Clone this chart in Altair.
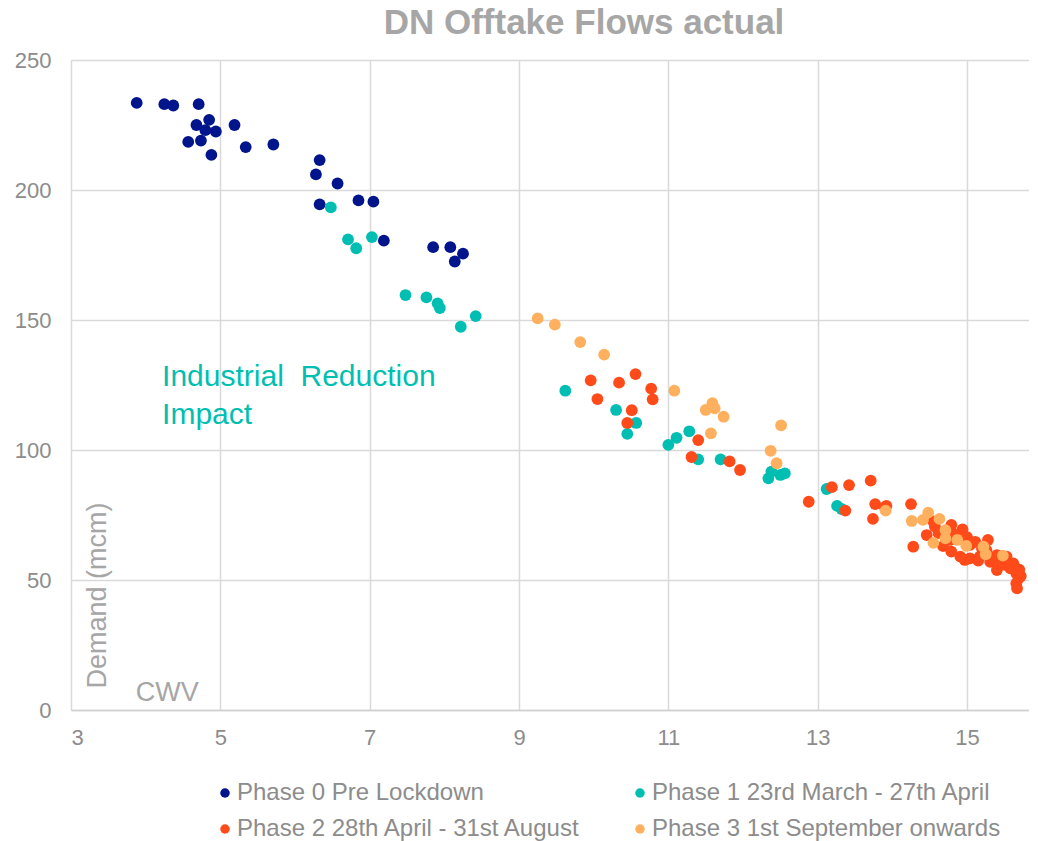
import altair as alt
import pandas as pd

phases = [
    "Phase 0 Pre Lockdown",
    "Phase 1 23rd March - 27th April",
    "Phase 2 28th April - 31st August",
    "Phase 3 1st September onwards",
]
colors = ["#00148C", "#00BFB2", "#FF4A1A", "#FFB05E"]

cwv0 = [3.88, 4.25, 4.37, 4.71, 4.85, 4.68, 4.80, 4.94, 5.19, 4.57, 4.74, 4.88, 5.34,
        5.71, 6.33, 6.28, 6.57, 6.33, 6.85, 7.05, 7.19, 7.85, 8.08, 8.25, 8.14]
dem0 = [233.5, 233, 232.5, 233, 227, 225, 223, 222.5, 225, 218.5, 219, 213.5, 216.5,
        217.5, 211.5, 206, 202.5, 194.5, 196, 195.5, 180.5, 178, 178, 175.5, 172.5]

cwv1 = [6.48, 6.71, 6.82, 7.03, 7.48, 7.76, 7.91, 7.94, 8.22, 8.42, 9.62, 10.30, 10.57,
        10.45, 11.00, 11.11, 11.28, 11.40, 11.70, 12.34, 12.38, 12.50, 12.56, 13.12,
        13.26, 13.32]
dem1 = [193.3, 181.0, 177.6, 181.9, 159.6, 158.7, 156.4, 154.6, 147.4, 151.5, 122.8,
        115.4, 110.4, 106.2, 102.0, 104.7, 107.2, 96.4, 96.4, 89.1, 91.7, 90.4, 91.0,
        85.0, 78.5, 77.3]

cwv2 = [9.96, 10.34, 10.56, 10.05, 10.77, 10.79, 10.51, 10.45, 11.40, 11.31, 11.82, 11.96,
        12.88, 13.19, 13.42, 13.71, 13.37, 13.77, 13.92, 13.74, 14.25, 14.28, 14.46, 14.57,
        14.79, 14.94, 14.77, 14.79, 15.04, 15.11, 15.04, 15.17, 15.28, 15.31, 15.40, 15.40,
        15.51, 15.62, 15.66, 15.69, 15.66, 15.67, 14.91, 14.97, 15.26, 15.53, 14.62, 14.85,
        15.00, 15.20, 15.35, 15.58, 15.70, 15.72, 14.55, 13.90, 14.68, 15.45, 15.15]
dem2 = [126.8, 125.9, 129.2, 119.6, 123.6, 119.5, 115.3, 110.4, 103.8, 97.3, 95.6, 92.3,
        80.1, 85.7, 86.5, 88.2, 76.7, 79.2, 78.5, 73.5, 79.2, 62.8, 67.3, 70.5,
        71.2, 69.5, 65.4, 60.9, 63.5, 64.7, 58.3, 59.0, 65.4, 57.0, 59.6, 53.8,
        55.8, 56.4, 52.6, 50.6, 48.7, 46.8, 59.0, 57.7, 61.5, 59.0, 68.0, 67.5,
        66.5, 62.0, 58.0, 54.5, 54.0, 51.5, 72.5, 78.0, 63.0, 57.0, 57.5]

cwv3 = [9.25, 9.48, 9.82, 10.14, 11.08, 11.59, 11.50, 11.62, 11.74, 11.57, 12.51, 12.37,
        12.45, 13.91, 14.26, 14.48, 14.41, 14.63, 14.71, 14.55, 14.71, 14.87, 14.99,
        15.22, 15.25, 15.48]
dem3 = [150.6, 148.2, 141.5, 136.7, 122.8, 118.0, 115.4, 116.0, 112.8, 106.4, 109.5, 99.7,
        94.9, 76.7, 72.7, 75.9, 73.1, 73.5, 69.2, 64.3, 66.0, 65.4, 63.1,
        62.8, 59.9, 59.4]

x_ticks = [3, 5, 7, 9, 11, 13, 15]
y_ticks = [0, 50, 100, 150, 200, 250]

ann_text = ["Industrial\u00a0 Reduction\nImpact", "CWV"]
ann_x = [4.22, 4.29]
ann_y = [124.8, 3.3]
ann_color = ["#00BFB2", "#A6A6A6"]

ylab_text = ["Demand (mcm)"]
ylab_x = [3.36]
ylab_y = [44.0]

rows = []
for ph, xs, ys in zip(phases, [cwv0, cwv1, cwv2, cwv3], [dem0, dem1, dem2, dem3]):
    for a, b in zip(xs, ys):
        rows.append({"phase": ph, "cwv": a, "demand": b})
df = pd.DataFrame(rows)

FONT = "Liberation Sans"
xscale = alt.Scale(domain=[3, 15.83], nice=False, zero=False)
yscale = alt.Scale(domain=[0, 250], nice=False)

points = alt.Chart(df).mark_point(filled=True, opacity=1, size=139, shape="circle").encode(
    x=alt.X("cwv:Q", scale=xscale,
            axis=alt.Axis(values=x_ticks, format="d", title=None, grid=True, ticks=False,
                          labelPadding=17, labelFontSize=22, labelColor="#8C8C8C",
                          labelFont=FONT, gridColor="#D9D9D9", gridWidth=1.5,
                          domainColor="#D0D0D0", domainWidth=1.5)),
    y=alt.Y("demand:Q", scale=yscale,
            axis=alt.Axis(values=y_ticks, format="d", title=None, grid=True, ticks=False,
                          labelPadding=20, labelFontSize=22, labelColor="#8C8C8C",
                          labelFont=FONT, gridColor="#D9D9D9", gridWidth=1.5,
                          domain=False)),
    color=alt.Color("phase:N", sort=phases,
                    scale=alt.Scale(domain=phases, range=colors),
                    legend=alt.Legend(title=None, orient="none", legendX=142, legendY=721,
                                      columns=2, direction="horizontal",
                                      columnPadding=46, rowPadding=12,
                                      symbolType="circle", symbolSize=90,
                                      labelFontSize=24, labelColor="#8C8C8C",
                                      labelFont=FONT, labelLimit=600, labelOffset=0,
                                      padding=0)),
)

ann_df = pd.DataFrame({"text": ann_text, "x": ann_x, "y": ann_y})
ann1 = alt.Chart(ann_df.iloc[[0]]).mark_text(
    align="left", baseline="alphabetic", fontSize=30, font=FONT, color=ann_color[0],
    lineBreak="\n", lineHeight=38
).encode(x=alt.X("x:Q", scale=xscale), y=alt.Y("y:Q", scale=yscale), text="text:N")
ann2 = alt.Chart(ann_df.iloc[[1]]).mark_text(
    align="center", baseline="alphabetic", fontSize=27, font=FONT, color=ann_color[1]
).encode(x=alt.X("x:Q", scale=xscale), y=alt.Y("y:Q", scale=yscale), text="text:N")

ylab_df = pd.DataFrame({"text": ylab_text, "x": ylab_x, "y": ylab_y})
ylab = alt.Chart(ylab_df).mark_text(
    align="center", baseline="middle", angle=270, fontSize=27, font=FONT, color="#A6A6A6"
).encode(x=alt.X("x:Q", scale=xscale), y=alt.Y("y:Q", scale=yscale), text="text:N")

chart = alt.layer(points, ann1, ann2, ylab).properties(
    width=958, height=650,
    title=alt.TitleParams(text="DN Offtake Flows actual", fontSize=35, fontWeight="bold",
                          color="#A6A6A6", font=FONT, anchor="middle", dx=34, offset=8),
    autosize=alt.AutoSizeParams(type="none"),
    padding={"left": 63, "top": 52, "right": 0, "bottom": 135},
).configure_view(strokeWidth=0).configure(background="white")

chart.save("out.html", embed_options={"renderer": "svg", "actions": False})
